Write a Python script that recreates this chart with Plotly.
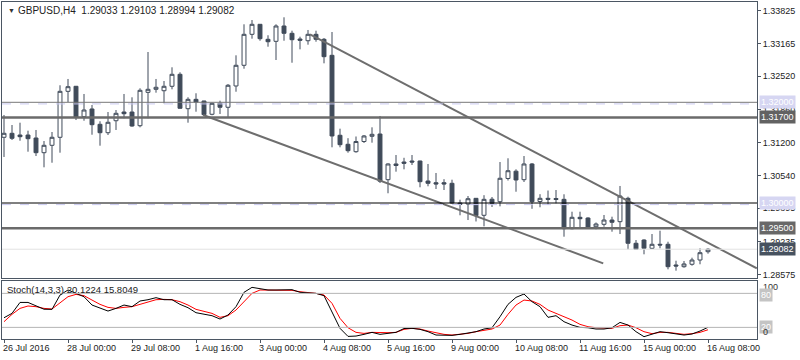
import plotly.graph_objects as go

# ---------------- data ----------------
opens = [1.31305, 1.31384, 1.31350, 1.31350, 1.31291, 1.30999, 1.31146, 1.31305, 1.32218, 1.32318,
         1.31714, 1.31867, 1.31563, 1.31396, 1.31634, 1.31807, 1.31807, 1.31535, 1.32198, 1.32258,
         1.32230, 1.32318, 1.32556, 1.31873, 1.32059, 1.32026, 1.31762, 1.31980, 1.31901, 1.32324,
         1.32735, 1.33350, 1.33549, 1.33251, 1.33211, 1.33515, 1.33370, 1.33257, 1.33223, 1.33350,
         1.33251, 1.32933, 1.31345, 1.31166, 1.31019, 1.31221, 1.31325, 1.31370, 1.30463, 1.30775,
         1.30814, 1.30834, 1.30834, 1.30437, 1.30403, 1.30403, 1.30391, 1.30000, 1.29980, 1.30093,
         1.29756, 1.30075, 1.30026, 1.30487, 1.30632, 1.30463, 1.30775, 1.30030, 1.30093, 1.30089,
         1.30073, 1.29490, 1.29716, 1.29702, 1.29529, 1.29577, 1.29662, 1.29629, 1.30093, 1.29200,
         1.29265, 1.29100, 1.29180, 1.29180, 1.28769, 1.28735, 1.28783, 1.28868, 1.29033]
highs = [1.31748, 1.31549, 1.31595, 1.31436, 1.31450, 1.31231, 1.31410, 1.32338, 1.32463, 1.32324,
         1.32165, 1.31946, 1.31623, 1.31807, 1.31847, 1.32165, 1.32099, 1.32278, 1.32999, 1.32463,
         1.32423, 1.32695, 1.32596, 1.32099, 1.32179, 1.32030, 1.31992, 1.32032, 1.32363, 1.32933,
         1.33549, 1.33634, 1.33555, 1.33331, 1.33549, 1.33688, 1.33422, 1.33303, 1.33436, 1.33422,
         1.33277, 1.33396, 1.31476, 1.31287, 1.31321, 1.31350, 1.31503, 1.31728, 1.30788, 1.30953,
         1.30898, 1.30953, 1.30840, 1.30775, 1.30596, 1.30473, 1.30463, 1.30066, 1.30139, 1.30099,
         1.30155, 1.30119, 1.30814, 1.30888, 1.30669, 1.30933, 1.30794, 1.30175, 1.30248, 1.30258,
         1.30173, 1.29827, 1.29827, 1.29716, 1.29613, 1.29762, 1.29728, 1.30338, 1.30125, 1.29265,
         1.29279, 1.29384, 1.29450, 1.29231, 1.28854, 1.28848, 1.28914, 1.29100, 1.29103]
lows = [1.30914, 1.31251, 1.31237, 1.31019, 1.30933, 1.30709, 1.30800, 1.30999, 1.32006, 1.31648,
        1.31634, 1.31356, 1.31138, 1.31350, 1.31450, 1.31682, 1.31515, 1.31503, 1.31682, 1.32191,
        1.31980, 1.32258, 1.31875, 1.31595, 1.31813, 1.31728, 1.31742, 1.31768, 1.31702, 1.32210,
        1.32667, 1.33263, 1.33223, 1.33104, 1.32840, 1.33223, 1.32786, 1.33052, 1.33144, 1.33203,
        1.32774, 1.31106, 1.31106, 1.30999, 1.30999, 1.31192, 1.31198, 1.30397, 1.30193, 1.30622,
        1.30669, 1.30755, 1.30312, 1.30332, 1.30278, 1.30258, 1.29986, 1.29756, 1.29662, 1.29633,
        1.29537, 1.29921, 1.29934, 1.30447, 1.30224, 1.30417, 1.29885, 1.29915, 1.29960, 1.29994,
        1.29331, 1.29478, 1.29498, 1.29485, 1.29478, 1.29529, 1.29430, 1.29384, 1.29080, 1.29067,
        1.28981, 1.29086, 1.29100, 1.28683, 1.28656, 1.28715, 1.28755, 1.28783, 1.28994]
closes = [1.31384, 1.31285, 1.31317, 1.31277, 1.30999, 1.31146, 1.31305, 1.32218, 1.32310, 1.31702,
          1.31847, 1.31555, 1.31396, 1.31603, 1.31781, 1.31773, 1.31529, 1.32238, 1.32258, 1.32298,
          1.32318, 1.32556, 1.31881, 1.32059, 1.32006, 1.31754, 1.31980, 1.31901, 1.32338, 1.32735,
          1.33350, 1.33549, 1.33263, 1.33203, 1.33515, 1.33370, 1.33243, 1.33231, 1.33350, 1.33251,
          1.32906, 1.31331, 1.31158, 1.31039, 1.31221, 1.31331, 1.31364, 1.30433, 1.30775, 1.30745,
          1.30788, 1.30814, 1.30423, 1.30391, 1.30377, 1.30377, 1.30000, 1.29974, 1.30085, 1.29750,
          1.30073, 1.29994, 1.30491, 1.30641, 1.30457, 1.30775, 1.30026, 1.30093, 1.30073, 1.30070,
          1.29490, 1.29716, 1.29688, 1.29498, 1.29583, 1.29662, 1.29617, 1.30139, 1.29200, 1.29080,
          1.29100, 1.29180, 1.29166, 1.28735, 1.28749, 1.28789, 1.28868, 1.29013, 1.29082]

stoch_k = [37, 44.7, 64, 64, 58, 52, 51.8, 77, 86, 80,
           74, 59.4, 53.5, 48.8, 53.5, 59.4, 56.5, 66.5, 68.8, 72.4,
           68.8, 68.8, 60.6, 54.7, 45.9, 43.5, 40.6, 34.7, 41.8, 56.5,
           81.8, 90.6, 87.6, 85.9, 85.9, 86.5, 86.5, 81.8, 81.2, 80,
           75.9, 47.7, 18.3, 4.1, 4.7, 7.7, 11.2, 7.7, 8.9, 11.2,
           18, 18.3, 16.5, 12.4, 6.5, 6.5, 5.9, 7.7, 10.6, 12.4,
           17.1, 19.4, 38.8, 60.6, 72.9, 78.8, 65.3, 56.5, 37.7, 40.6,
           30, 24.1, 20, 19.4, 17.1, 17.1, 19.4, 28.8, 24.1, 12.4,
           3.6, 7.7, 12.4, 10.6, 8.9, 6.5, 8.3, 13.5, 20.12]
stoch_d = [30, 43, 53.5, 57.7, 56.5, 53.5, 52.4, 64.1, 74.1, 78.2,
           75.9, 68.2, 60.6, 55.3, 53.5, 55.3, 56.5, 60.6, 64.1, 68.8,
           69.4, 68.8, 65.3, 59.4, 51.8, 48.8, 44.7, 37.7, 40.6, 50.6,
           65.3, 80, 85.9, 85.9, 85.9, 85.9, 85.3, 82.9, 81.8, 80,
           77.1, 62.4, 35.9, 19.4, 11.2, 9.4, 11.2, 10.6, 10.6, 11.2,
           16.5, 18.3, 17.1, 13.5, 10, 7.7, 6.5, 7.7, 9.4, 12.4,
           14.7, 17.1, 24.1, 43, 59.4, 68.2, 66.5, 60.6, 50.6, 44.7,
           38.8, 32.9, 25.3, 21.2, 19.4, 18.3, 18.3, 23, 24.1, 19.4,
           12.4, 8.9, 11.2, 11.2, 10, 7.7, 8.9, 11.2, 15.80]

time_labels = ["26 Jul 2016", "28 Jul 00:00", "29 Jul 08:00", "1 Aug 16:00", "3 Aug 00:00",
               "4 Aug 08:00", "5 Aug 16:00", "9 Aug 00:00", "10 Aug 08:00", "11 Aug 16:00",
               "15 Aug 00:00", "16 Aug 08:00"]
label_bars = [0, 8, 16, 24, 32, 40, 48, 56, 64, 72, 80, 88]

price_ticks = [1.33825, 1.33165, 1.32520, 1.31860, 1.31200, 1.30540, 1.29895, 1.29235, 1.28575]

upper_trend_x = [38.25, 94.1]
upper_trend_y = [1.33348, 1.28703]
lower_trend_x = [24.9, 74.9]
lower_trend_y = [1.31748, 1.28802]

title_text = "GBPUSD,H4  1.29033 1.29103 1.28994 1.29082"
stoch_text = "Stoch(14,3,3) 20.1224 15.8049"

# ---------------- style ----------------
FONT = "Liberation Sans"
DARK = "#404b5a"
FRAME = "#4b5663"
bars = list(range(len(opens)))

fig = go.Figure()

fig.add_trace(go.Candlestick(
    x=bars, open=opens, high=highs, low=lows, close=closes,
    increasing=dict(line=dict(color=DARK, width=1), fillcolor="white"),
    decreasing=dict(line=dict(color=DARK, width=1), fillcolor=DARK),
    whiskerwidth=0, showlegend=False, hoverinfo="skip",
    xaxis="x", yaxis="y"))

fig.add_trace(go.Scatter(x=upper_trend_x, y=upper_trend_y, mode="lines",
                         line=dict(color="#6e6e6e", width=2), showlegend=False,
                         xaxis="x", yaxis="y"))
fig.add_trace(go.Scatter(x=lower_trend_x, y=lower_trend_y, mode="lines",
                         line=dict(color="#6e6e6e", width=2), showlegend=False,
                         xaxis="x", yaxis="y"))

fig.add_trace(go.Scatter(x=bars, y=stoch_d, mode="lines", line=dict(color="#ff0000", width=1),
                         showlegend=False, xaxis="x2", yaxis="y2"))
fig.add_trace(go.Scatter(x=bars, y=stoch_k, mode="lines", line=dict(color="#000000", width=1),
                         showlegend=False, xaxis="x2", yaxis="y2"))

shapes = []
def hline(y, color, width, yref="y", dash="solid"):
    shapes.append(dict(type="line", xref="paper", x0=0, x1=1, yref=yref, y0=y, y1=y,
                       line=dict(color=color, width=width, dash=dash)))

hline(1.29082, "#e2e2e2", 1)
hline(1.32000, "#777777", 1)
hline(1.31968, "#c9c9f0", 1, dash="dash")
hline(1.30000, "#000000", 1)
hline(1.29968, "#c9c9f0", 1, dash="dash")
hline(1.31700, "#6b6b6b", 2.5)
hline(1.29500, "#6b6b6b", 2.5)
hline(80, "#b4b4b4", 1, yref="y2")
hline(20, "#b4b4b4", 1, yref="y2")

annotations = []
def box(y, text, bg, fg="white", yref="y"):
    annotations.append(dict(xref="paper", x=1, xanchor="left", xshift=2, yref=yref, y=y,
                            yanchor="middle", text=text, showarrow=False, bgcolor=bg,
                            borderpad=1, font=dict(family=FONT, size=9, color=fg)))

box(1.32000, "1.32000", "#d6d6f2")
box(1.31700, "1.31700", "#626262")
box(1.30000, "1.30000", "#d6d6f2")
box(1.29500, "1.29500", "#686868")
box(1.29082, "1.29082", "#47525f")

# stoch right labels
annotations.append(dict(xref="paper", x=1, xanchor="left", xshift=4, yref="y2", y=91,
                        yanchor="middle", text="100", showarrow=False,
                        font=dict(family=FONT, size=9, color="#333333")))
box(77.5, "80", "#c4c4c4", yref="y2")
box(19.8, "20", "#c4c4c4", yref="y2")
annotations.append(dict(xref="paper", x=1, xanchor="left", xshift=4, yref="y2", y=11,
                        yanchor="middle", text="0", showarrow=False,
                        font=dict(family=FONT, size=9, color="#333333")))

# title and stoch label
annotations.append(dict(xref="paper", x=0, xanchor="left", xshift=4, yref="paper", y=0.9733,
                        yanchor="middle", text="▼", showarrow=False,
                        font=dict(family=FONT, size=7, color="#333333")))
annotations.append(dict(xref="paper", x=0, xanchor="left", xshift=14, yref="paper", y=0.9733,
                        yanchor="middle", text=title_text.replace("  ", "&nbsp; "), showarrow=False,
                        font=dict(family=FONT, size=10, color="#222222")))
annotations.append(dict(xref="paper", x=0, xanchor="left", xshift=3, yref="paper", y=0.148,
                        yanchor="middle", text=stoch_text, showarrow=False,
                        font=dict(family=FONT, size=9.5, color="#222222")))

# time labels
for b, t in zip(label_bars, time_labels):
    annotations.append(dict(xref="x2", x=b, xanchor="left", xshift=-3, yref="paper", y=-0.027,
                            yanchor="middle", text=t, showarrow=False,
                            font=dict(family=FONT, size=9, color="#222222")))

xrange = [-0.25, 94.125]
axis_common = dict(showline=True, mirror=True, linecolor=FRAME, linewidth=1,
                   showgrid=False, zeroline=False)

fig.update_layout(
    width=800, height=360,
    margin=dict(l=2, r=43, t=2, b=21),
    paper_bgcolor="white", plot_bgcolor="white",
    font=dict(family=FONT, size=9, color="#222222"),
    showlegend=False,
    shapes=shapes, annotations=annotations,
    xaxis=dict(domain=[0, 1], anchor="y", range=xrange, showticklabels=False, ticks="",
               rangeslider=dict(visible=False), **axis_common),
    yaxis=dict(domain=[0.181, 1], anchor="x", side="right", range=[1.285105, 1.339919],
               tickvals=price_ticks, ticktext=[f"{v:.5f}" for v in price_ticks],
               ticks="outside", ticklen=3, tickcolor=FRAME,
               tickfont=dict(family=FONT, size=9, color="#222222"), **axis_common),
    xaxis2=dict(domain=[0, 1], anchor="y2", range=xrange, showticklabels=False,
                tickvals=label_bars, ticks="outside", ticklen=3, tickcolor=FRAME, **axis_common),
    yaxis2=dict(domain=[0, 0.1721], anchor="x2", side="right", range=[-0.5, 101.8],
                showticklabels=False, ticks="", **axis_common),
)

fig.write_html("out.html", config={"displayModeBar": False},
               post_script="document.body.style.margin='0';document.body.style.overflow='hidden';")
